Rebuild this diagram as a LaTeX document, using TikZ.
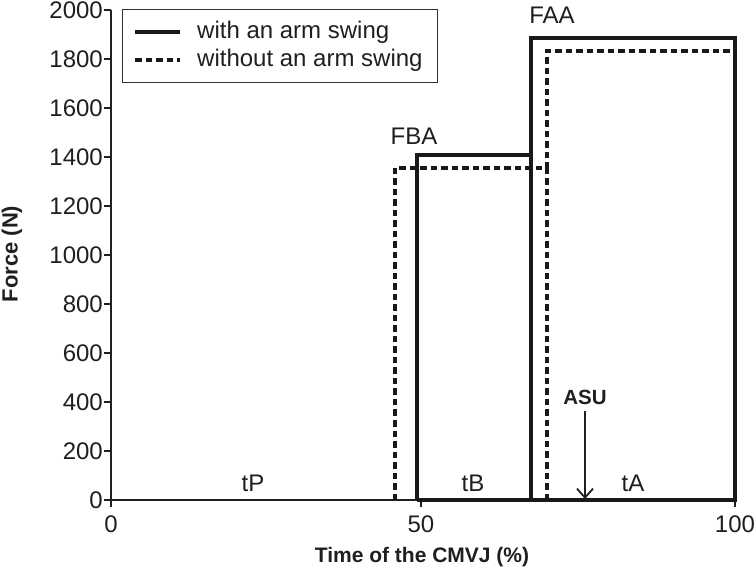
\documentclass[tikz,border=0pt]{standalone}
\usepackage{fontspec}
\setmainfont{Liberation Sans}
\usetikzlibrary{arrows.meta}
\begin{document}
\begin{tikzpicture}[x=1pt,y=-1pt,
  axis/.style={line width=2pt, black!88, line join=miter},
  solidline/.style={line width=3.2pt, black!90, line join=miter},
  dashline/.style={line width=3.2pt, black!90, dash pattern=on 6.5pt off 4pt},
  lbl/.style={font=\fontsize{24}{28}\selectfont, inner sep=0pt, text=black!88},
  blbl/.style={font=\fontsize{21}{25}\selectfont\bfseries, inner sep=0pt, text=black!88}]
\useasboundingbox (0,0) rectangle (756,580);
% axes
\coordinate (o) at (111,500);
\coordinate (ytop) at (111,10);
\coordinate (xend) at (735,500);
\draw[axis] (ytop) -- (o) -- (xend);
\foreach \v in {0,200,...,2000} {
  \pgfmathsetmacro\yy{500-0.245*\v}
  \coordinate (yt\v) at (111,\yy);
  \draw[axis] (yt\v) -- ++(-7,0);
  \node[lbl, anchor=east] (ylab\v) at (103,\yy) {\v};
}
\foreach \t/\xx in {0/111,50/421,100/735} {
  \coordinate (xt\t) at (\xx,500);
  \draw[axis] (xt\t) -- ++(0,7);
  \node[lbl] (xlab\t) at (\xx,524) {\t};
}
\node[blbl, font=\fontsize{22}{26}\selectfont\bfseries, rotate=90] (ylabel) at (12,254) {Force (N)};
\node[blbl] (xlabel) at (422,557) {Time of the CMVJ (\%)};
% solid (with arm swing)
\coordinate (s1) at (417,500);
\coordinate (s2) at (417,155);
\coordinate (s3) at (531,155);
\coordinate (s4) at (531,38);
\coordinate (s5) at (735,38);
\coordinate (s6) at (735,500);
\coordinate (s7) at (531,500);
\draw[solidline] (s1) -- (s2) -- (s3) -- (s4) -- (s5) -- (s6) -- (s1);
\draw[solidline] (s3) -- (s7);
% dashed (without arm swing)
\coordinate (d1) at (395,500);
\coordinate (d2) at (395,168);
\coordinate (d3) at (547,168);
\coordinate (d4) at (547,51);
\coordinate (d5) at (735,51);
\coordinate (d6) at (547,500);
\draw[dashline] (d1) -- (d2) -- (d3) -- (d4) -- (d5);
\draw[dashline] (d3) -- (d6);
% labels
\node[lbl] (fba) at (414,136) {FBA};
\node[lbl] (faa) at (552,15) {FAA};
\node[lbl] (tp) at (253,483) {tP};
\node[lbl] (tb) at (473,483) {tB};
\node[lbl] (ta) at (633,483) {tA};
\node[blbl, font=\fontsize{20.5}{24}\selectfont\bfseries] (asu) at (585,397) {ASU};
\coordinate (asutip) at (585,499);
\draw[line width=1.8pt, black!88, -{Straight Barb[length=9pt,width=16pt,line width=1.8pt]}] (asu.south) ++(0,7) -- (asutip);
% legend
\node[draw=black!80, line width=1pt, minimum width=315pt, minimum height=73pt, anchor=north west, inner sep=0pt] (legend) at (122,9) {};
\coordinate (la1) at (135,32);
\coordinate (la2) at (180,32);
\coordinate (lb1) at (135,60);
\coordinate (lb2) at (180,60);
\draw[solidline] (la1) -- (la2);
\draw[dashline] (lb1) -- (lb2);
\node[lbl, anchor=west] (lt1) at (197,32) {with an arm swing};
\node[lbl, anchor=west] (lt2) at (197,60) {without an arm swing};
\end{tikzpicture}
\end{document}
